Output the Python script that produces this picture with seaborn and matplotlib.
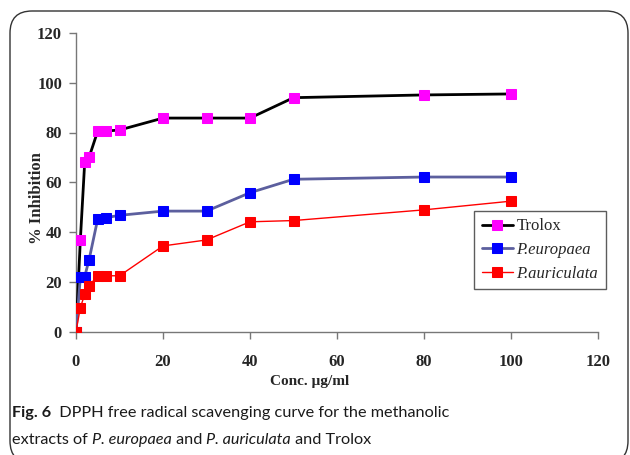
import numpy as np
import pandas as pd
import matplotlib
matplotlib.use("Agg")
import matplotlib.pyplot as plt
import seaborn as sns
from matplotlib.patches import FancyBboxPatch
from matplotlib.font_manager import FontProperties

# values (conc. in ug/ml, % inhibition)
conc = [0, 1, 2, 3, 5, 7, 10, 20, 30, 40, 50, 80, 100]
trolox = [0, 36.8, 68.0, 70.0, 80.6, 80.6, 81.0, 85.8, 85.8, 85.8, 94.0, 95.1, 95.5]
europaea = [0, 21.8, 22.1, 28.8, 45.3, 45.8, 46.7, 48.4, 48.4, 55.8, 61.2, 62.1, 62.1]
auriculata = [0, 9.6, 14.9, 18.4, 22.4, 22.4, 22.4, 34.4, 36.8, 44.1, 44.6, 48.9, 52.4]

series_names = ["Trolox", "P.europaea", "P.auriculata"]
line_colors = ["#000000", "#5c5f9e", "#ff0000"]
marker_colors = ["#ff00ff", "#0000ff", "#ff0000"]
line_widths = [2.0, 2.0, 1.0]

xticks = [0, 20, 40, 60, 80, 100, 120]
yticks = [0, 20, 40, 60, 80, 100, 120]

df = pd.DataFrame({"conc": conc, "Trolox": trolox,
                   "P.europaea": europaea, "P.auriculata": auriculata})
long_df = df.melt(id_vars="conc", var_name="series", value_name="inhibition")

sns.set_theme(style="white")
plt.rcParams["font.family"] = ["Liberation Serif", "DejaVu Serif"]

W, H = 630, 455
fig = plt.figure(figsize=(W / 100, H / 100), dpi=100)

# rounded frame around figure + caption
frame = FancyBboxPatch((10 / W, -8 / H), 618 / W, (H - 11 + 8) / H,
                       boxstyle="round,pad=0,rounding_size=0.035",
                       transform=fig.transFigure, fill=False,
                       edgecolor="#333333", linewidth=1.0, mutation_aspect=W / H)
fig.patches.append(frame)

x0, x1, y0, y1 = 76, 598, 33, 331.5
ax = fig.add_axes([x0 / W, 1 - y1 / H, (x1 - x0) / W, (y1 - y0) / H])

for name, lc, mc, lw in zip(series_names, line_colors, marker_colors, line_widths):
    sub = long_df[long_df["series"] == name]
    sns.lineplot(data=sub, x="conc", y="inhibition", ax=ax, color=lc, linewidth=lw,
                 marker="s", markersize=7, markerfacecolor=mc, markeredgecolor=mc,
                 label=name, zorder=3)

ax.set_xlim(0, 120)
ax.set_ylim(0, 120)
ax.set_xticks(xticks)
ax.set_yticks(yticks)
ax.set_xticklabels([str(t) for t in xticks], fontsize=12, fontweight="bold")
ax.set_yticklabels([str(t) for t in yticks], fontsize=12, fontweight="bold")
ax.tick_params(axis="both", direction="out", length=5, width=1, color="#777777",
               bottom=True, left=True)
ax.tick_params(axis="x", pad=11)
ax.tick_params(axis="y", pad=5)
for s in ["top", "right"]:
    ax.spines[s].set_visible(False)
for s in ["left", "bottom"]:
    ax.spines[s].set_color("#777777")
    ax.spines[s].set_linewidth(1.0)
ax.set_xlabel("")
ax.set_ylabel("")

fig.text(310 / W, 1 - 382 / H, "Conc. \u00b5g/ml", ha="center", va="center",
         fontsize=11, fontweight="bold")
fig.text(37 / W, 1 - 198 / H, "% Inhibition", ha="center", va="center",
         rotation=90, fontsize=12, fontweight="bold")

leg = ax.legend(loc="upper left", bbox_to_anchor=(474 / W, 1 - 211 / H),
                bbox_transform=fig.transFigure, frameon=True, fancybox=False,
                fontsize=12, handlelength=1.9, handletextpad=0.2,
                borderpad=0.45, labelspacing=0.45, borderaxespad=0)
leg.get_frame().set_edgecolor("#333333")
leg.get_frame().set_linewidth(1.0)
for t in leg.get_texts()[1:]:
    t.set_fontproperties(FontProperties(family="Liberation Serif", style="italic", size=12))

# caption with mixed styles
cap_font = ["Lato", "DejaVu Sans"]
renderer = fig.canvas.get_renderer()

def caption_line(pieces, xpix, ypix):
    x = xpix / W
    for txt, weight, style in pieces:
        t = fig.text(x, 1 - ypix / H, txt, fontsize=11.7, family=cap_font,
                     fontweight=weight, fontstyle=style, va="baseline", ha="left",
                     color="#1a1a1a")
        bb = t.get_window_extent(renderer=renderer)
        x += bb.width / W

caption_line([("Fig. 6", "bold", "normal"),
              ("  DPPH free radical scavenging curve for the methanolic", "normal", "normal")],
             12, 417)
caption_line([("extracts of ", "normal", "normal"),
              ("P. europaea", "normal", "italic"),
              (" and ", "normal", "normal"),
              ("P. auriculata", "normal", "italic"),
              (" and Trolox", "normal", "normal")],
             12, 444)

fig.savefig("out.png", dpi=100)
